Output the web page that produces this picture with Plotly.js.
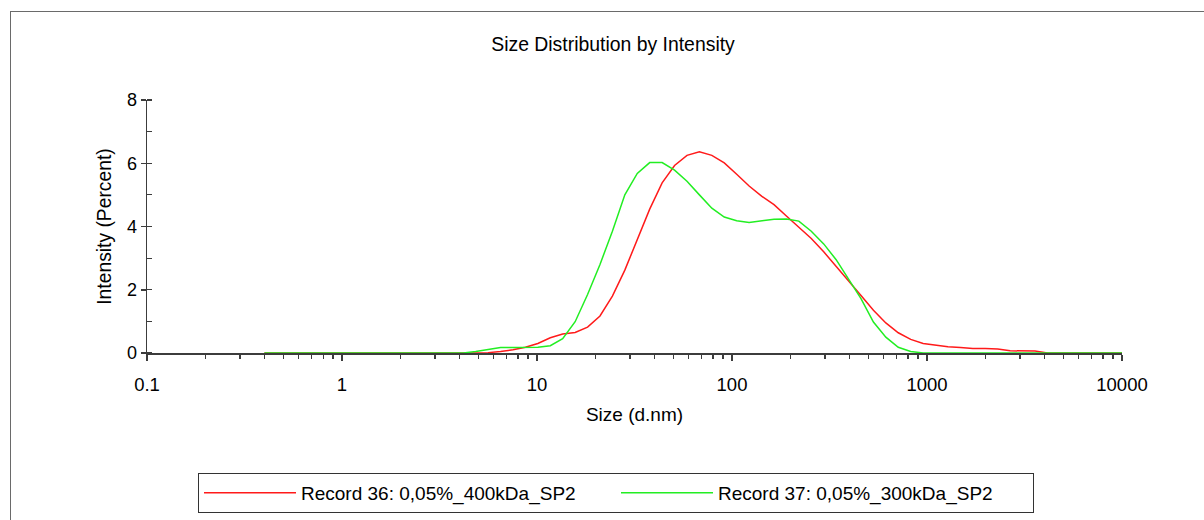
<!DOCTYPE html>
<html>
<head>
<meta charset="utf-8">
<script src="https://cdn.plot.ly/plotly-3.0.1.min.js"></script>
<style>
  html, body { margin: 0; padding: 0; background: #fff; }
  #wrap { position: relative; width: 1204px; height: 520px; }
  #chart { width: 1204px; height: 520px; }
  #frame { position: absolute; left: 10px; top: 11px; width: 1194px; height: 509px;
           border-top: 1px solid #6a6a6a; border-left: 1px solid #6a6a6a; pointer-events: none; box-sizing: border-box; }
</style>
</head>
<body>
<div id="wrap">
  <div id="chart"></div>
  <div id="frame"></div>
</div>
<script>
// Size bins (d.nm)
const sizes = [0.4, 0.4632, 0.5365, 0.6213, 0.7195, 0.8332, 0.9649, 1.117, 1.294, 1.499,
  1.736, 2.010, 2.328, 2.696, 3.122, 3.615, 4.187, 4.849, 5.615, 6.503,
  7.531, 8.721, 10.10, 11.70, 13.54, 15.69, 18.17, 21.04, 24.36, 28.21,
  32.67, 37.84, 43.82, 50.75, 58.77, 68.06, 78.82, 91.28, 105.7, 122.4,
  141.8, 164.2, 190.1, 220.2, 255.0, 295.3, 342.0, 396.1, 458.7, 531.2,
  615.1, 712.4, 825.0, 955.4, 1106, 1281, 1484, 1718, 1990, 2305,
  2669, 3091, 3580, 4145, 4801, 5560, 6439, 7456, 8635, 10000];

// Record 36: 0,05%_400kDa_SP2 (Intensity %)
const record36 = [0, 0, 0, 0, 0, 0, 0, 0, 0, 0,
  0, 0, 0, 0, 0, 0, 0, 0, 0.01, 0.05,
  0.10, 0.18, 0.30, 0.48, 0.60, 0.65, 0.82, 1.17, 1.80, 2.62,
  3.60, 4.55, 5.38, 5.93, 6.25, 6.36, 6.25, 6.01, 5.65, 5.28,
  4.96, 4.69, 4.33, 3.97, 3.62, 3.20, 2.75, 2.30, 1.82, 1.35,
  0.95, 0.64, 0.43, 0.30, 0.24, 0.20, 0.17, 0.14, 0.14, 0.13,
  0.07, 0.07, 0.06, 0, 0, 0, 0, 0, 0, 0];

// Record 37: 0,05%_300kDa_SP2 (Intensity %)
const record37 = [0, 0, 0, 0, 0, 0, 0, 0, 0, 0,
  0, 0, 0, 0, 0, 0, 0, 0.05, 0.12, 0.17,
  0.17, 0.17, 0.18, 0.23, 0.45, 0.99, 1.85, 2.80, 3.85, 5.00,
  5.68, 6.02, 6.02, 5.78, 5.43, 5.00, 4.58, 4.30, 4.18, 4.13,
  4.18, 4.23, 4.24, 4.17, 3.85, 3.45, 2.95, 2.35, 1.72, 0.98,
  0.50, 0.18, 0.05, 0, 0, 0, 0, 0, 0, 0,
  0, 0, 0, 0, 0, 0, 0, 0, 0, 0];

const seriesNames = ["Record 36: 0,05%_400kDa_SP2", "Record 37: 0,05%_300kDa_SP2"];
const xTickVals = [0.1, 1, 10, 100, 1000, 10000];
const xTickText = ["0.1", "1", "10", "100", "1000", "10000"];
const yTickVals = [0, 2, 4, 6, 8];

const FONT = "Liberation Sans, Arial, Helvetica, sans-serif";
const AXC = "#3c3c3c";

const traces = [
  { x: sizes, y: record36, name: seriesNames[0], type: "scatter", mode: "lines",
    line: { color: "#ff1a1a", width: 1.5 } },
  { x: sizes, y: record37, name: seriesNames[1], type: "scatter", mode: "lines",
    line: { color: "#22ee22", width: 1.5 } }
];

const layout = {
  width: 1204, height: 520,
  margin: { l: 147, r: 82, t: 100, b: 167 },
  paper_bgcolor: "#fff", plot_bgcolor: "#fff",
  font: { family: FONT, size: 18, color: "#000" },
  title: { text: "Size Distribution by Intensity", font: { family: FONT, size: 19.4, color: "#000" },
           x: 613 / 1204, xref: "container", xanchor: "center",
           y: 1 - 44 / 520, yref: "container", yanchor: "middle" },
  xaxis: {
    type: "log", range: [-1, 4],
    tickmode: "array", tickvals: xTickVals, ticktext: xTickText,
    ticks: "outside", ticklen: 6, tickwidth: 1.5, tickcolor: AXC,
    ticklabelstandoff: 8,
    minor: { dtick: "D1", ticks: "outside", ticklen: 4, tickwidth: 1.2, tickcolor: AXC, showgrid: false },
    showline: true, linecolor: AXC, linewidth: 1.5,
    showgrid: false, zeroline: false,
    tickfont: { family: FONT, size: 18.5, color: "#000" },
    title: { text: "Size (d.nm)", font: { family: FONT, size: 19, color: "#000" }, standoff: 14 }
  },
  yaxis: {
    range: [0, 8],
    tickmode: "array", tickvals: yTickVals,
    ticks: "outside", ticklen: 5, tickwidth: 1.5, tickcolor: AXC,
    minor: { dtick: 1, tick0: 0, ticks: "inside", ticklen: 5, tickwidth: 1.2, tickcolor: AXC, showgrid: false },
    showline: true, linecolor: AXC, linewidth: 1.5,
    showgrid: false, zeroline: false,
    tickfont: { family: FONT, size: 18, color: "#000" },
    title: { text: "Intensity (Percent)", font: { family: FONT, size: 19.3, color: "#000" }, standoff: 10 }
  },
  showlegend: true,
  legend: {
    orientation: "h",
    x: (198 - 147) / 975, xanchor: "left",
    y: 1 - 473 / 520, yref: "container", yanchor: "top",
    bgcolor: "#fff", bordercolor: "#333", borderwidth: 1,
    font: { family: FONT, size: 19, color: "#000" },
    itemwidth: 92, entrywidth: 310, entrywidthmode: "pixels",
    traceorder: "normal"
  },
  hovermode: false
};

Plotly.newPlot("chart", traces, layout, { staticPlot: true, displayModeBar: false });
</script>
</body>
</html>
